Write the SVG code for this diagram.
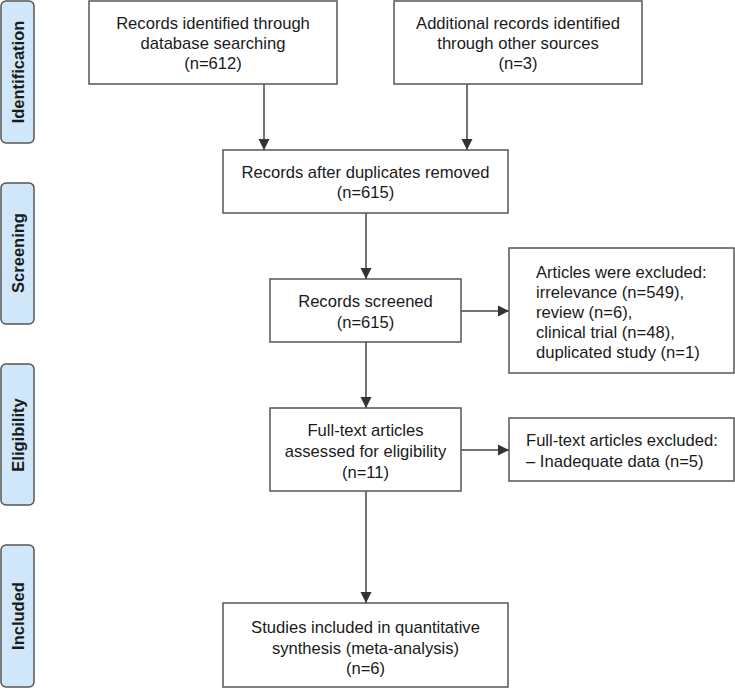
<svg xmlns="http://www.w3.org/2000/svg" width="735" height="688" viewBox="0 0 735 688">
<style>
.box{fill:#fff;stroke:#555;stroke-width:1.5}
.side{fill:#cfe7f8;stroke:#555;stroke-width:1.5}
.t{font-family:"Liberation Sans",Arial,sans-serif;font-size:16.6px;fill:#1a1a1a}
.c{text-anchor:middle}
.s{font-family:"Liberation Sans",Arial,sans-serif;font-size:16.5px;font-weight:bold;fill:#1a1a1a;text-anchor:middle}
.ln{stroke:#444;stroke-width:1.5;fill:none;marker-end:url(#ah)}
</style>
<defs>
<marker id="ah" markerUnits="userSpaceOnUse" markerWidth="12" markerHeight="12" refX="11" refY="6" orient="auto">
<path d="M0,0.5 L11,6 L0,11.5 Z" fill="#333"/>
</marker>
</defs>
<rect width="735" height="688" fill="#fff"/>
<g id="side-identification"><rect class="side" x="1" y="1" width="33" height="142" rx="5"/><text class="s" transform="translate(24,72) rotate(-90)">Identification</text></g>
<g id="side-screening"><rect class="side" x="1" y="183" width="33" height="141" rx="5"/><text class="s" transform="translate(24,253) rotate(-90)">Screening</text></g>
<g id="side-eligibility"><rect class="side" x="1" y="364" width="33" height="141" rx="5"/><text class="s" transform="translate(24,435) rotate(-90)">Eligibility</text></g>
<g id="side-included"><rect class="side" x="1" y="545" width="33" height="142" rx="5"/><text class="s" transform="translate(24,616) rotate(-90)">Included</text></g>
<g id="connectors">
<line class="ln" x1="264" y1="84" x2="264" y2="150"/>
<line class="ln" x1="467" y1="84" x2="467" y2="150"/>
<line class="ln" x1="366" y1="213" x2="366" y2="279"/>
<line class="ln" x1="366" y1="342" x2="366" y2="408"/>
<line class="ln" x1="366" y1="491" x2="366" y2="603"/>
<line class="ln" x1="461" y1="311" x2="509" y2="311"/>
<line class="ln" x1="461" y1="450" x2="509" y2="450"/>
</g>
<g id="n-database"><rect class="box" x="89" y="1" width="248" height="83"/>
<text class="t c" x="213" y="29">Records identified through</text>
<text class="t c" x="213" y="49">database searching</text>
<text class="t c" x="213" y="69">(n=612)</text></g>
<g id="n-other"><rect class="box" x="394" y="1" width="248" height="83"/>
<text class="t c" x="518" y="29">Additional records identified</text>
<text class="t c" x="518" y="49">through other sources</text>
<text class="t c" x="518" y="69">(n=3)</text></g>
<g id="n-dedup"><rect class="box" x="223" y="150" width="285" height="63"/>
<text class="t c" x="365.5" y="178">Records after duplicates removed</text>
<text class="t c" x="365.5" y="198">(n=615)</text></g>
<g id="n-screened"><rect class="box" x="270" y="279" width="191" height="63"/>
<text class="t c" x="365.5" y="307">Records screened</text>
<text class="t c" x="365.5" y="328">(n=615)</text></g>
<g id="n-excluded1"><rect class="box" x="509" y="248" width="225" height="125"/>
<text class="t" x="536" y="278">Articles were excluded:</text>
<text class="t" x="536" y="298">irrelevance (n=549),</text>
<text class="t" x="536" y="318">review (n=6),</text>
<text class="t" x="536" y="338">clinical trial (n=48),</text>
<text class="t" x="536" y="358">duplicated study (n=1)</text></g>
<g id="n-fulltext"><rect class="box" x="270" y="408" width="191" height="83"/>
<text class="t c" x="365.5" y="436">Full-text articles</text>
<text class="t c" x="365.5" y="457">assessed for eligibility</text>
<text class="t c" x="365.5" y="478">(n=11)</text></g>
<g id="n-excluded2"><rect class="box" x="509" y="418" width="225" height="63"/>
<text class="t" x="526" y="446">Full-text articles excluded:</text>
<text class="t" x="526" y="467">– Inadequate data (n=5)</text></g>
<g id="n-included"><rect class="box" x="223" y="603" width="285" height="84"/>
<text class="t c" x="365.5" y="633">Studies included in quantitative</text>
<text class="t c" x="365.5" y="654">synthesis (meta-analysis)</text>
<text class="t c" x="365.5" y="674">(n=6)</text></g>
</svg>
